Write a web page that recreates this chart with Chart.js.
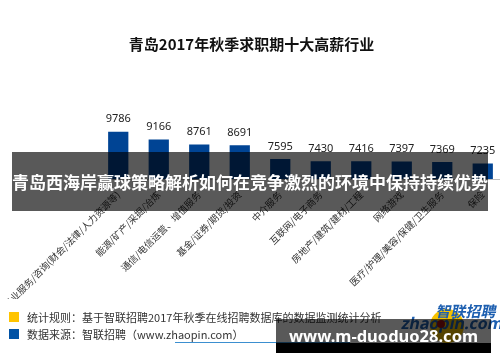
<!DOCTYPE html>
<html>
<head>
<meta charset="utf-8">
<script src="https://cdn.jsdelivr.net/npm/chart.js@4"></script>
<style>
  html, body { margin: 0; padding: 0; background: #fff; }
  #wrap { position: relative; width: 500px; height: 362px; overflow: hidden; font-family: "Noto Sans CJK SC", "Noto Sans", sans-serif; }
  #chart { position: absolute; left: 0; top: 0; }
  .note { position: absolute; left: 27px; font-size: 11px; color: #333; line-height: 14px; white-space: nowrap; }
  .sq { position: absolute; left: 9px; width: 10px; height: 10px; }
  #banner { position: absolute; left: 12px; top: 152px; width: 476px; height: 59px; background: rgba(0,0,0,0.65);
            color: #fff; font-weight: bold; font-size: 17px; line-height: 59px; text-align: center; white-space: nowrap; }
  #logo1 { position: absolute; left: 437px; top: 300px; font-size: 15px; font-weight: bold; color: #1d5fb0; transform: skewX(-12deg); white-space: nowrap; }
  #logo2 { position: absolute; left: 402px; top: 314px; font-size: 16px; font-weight: bold; font-family: "Noto Sans", sans-serif; color: #1d5fb0; transform: skewX(-12deg); white-space: nowrap; line-height: 18px; }
  #ring { position: absolute; left: 430px; top: 309px; width: 34px; height: 34px; border-radius: 50%; background: #f6c200; }
  #dot { position: absolute; left: 437px; top: 320px; width: 8px; height: 8px; border-radius: 50%; background: #a01010; }
  #uline { position: absolute; left: 175px; top: 342px; width: 175px; height: 1px; background: #3b8fd0; }
  #wm { position: absolute; left: 276px; top: 319px; width: 215px; height: 34px; }
  #wm .g { position: absolute; left: 0; top: 0; width: 215px; height: 24px; background: rgba(0,0,0,0.65); }
  #wm .b { position: absolute; left: 0; top: 24px; width: 215px; height: 10px; background: #000; }
  #wm .t { position: absolute; left: 0; top: 5px; width: 215px; text-align: center; color: #fff; font-weight: bold;
           font-size: 16.5px; line-height: 24px; font-family: "Noto Sans", sans-serif; white-space: nowrap; }
</style>
</head>
<body>
<div id="wrap">
  <canvas id="chart" width="510" height="362"></canvas>
  <div class="sq" style="top:312px;background:#ffc400"></div>
  <div class="note" style="top:310px">统计规则：基于智联招聘2017年秋季在线招聘数据库的数据监测统计分析</div>
  <div class="sq" style="top:329px;background:#0052a5"></div>
  <div class="note" style="top:327px">数据来源：智联招聘（www.zhaopin.com）</div>
  <div id="uline"></div>
  <div id="ring"></div>
  <div id="logo1">智联招聘</div>
  <div id="logo2">zhaopin.com</div>
  <div id="dot"></div>
  <div id="banner">青岛西海岸赢球策略解析如何在竞争激烈的环境中保持持续优势</div>
  <div id="wm"><div class="g"></div><div class="b"></div><div class="t">www.m-duoduo28.com</div></div>
</div>
<script>
// ========== Data
let industries = [
    '专业服务/咨询(财会/法律/人力资源等)',
    '能源/矿产/采掘/冶炼',
    '通信/电信运营、增值服务',
    '基金/证券/期货/投资',
    '中介服务',
    '互联网/电子商务',
    '房地产/建筑/建材/工程',
    '网络游戏',
    '医疗/护理/美容/保健/卫生服务',
    '保险'
];
let salaries = [9786, 9166, 8761, 8691, 7595, 7430, 7416, 7397, 7369, 7235];

let barColor = '#004494';

// value labels above the bars
let valueLabels = {
    id: 'valueLabels',
    afterDatasetsDraw(chart) {
        let ctx = chart.ctx;
        let meta = chart.getDatasetMeta(0);
        ctx.save();
        ctx.font = '11px "Noto Sans", sans-serif';
        ctx.fillStyle = '#222';
        ctx.textAlign = 'center';
        ctx.textBaseline = 'bottom';
        meta.data.forEach((bar, i) => {
            ctx.fillText(salaries[i], bar.x, bar.y - 7);
        });
        ctx.restore();
    }
};

new Chart(document.getElementById('chart'), {
    type: 'bar',
    data: {
        labels: industries,
        datasets: [{
            data: salaries,
            backgroundColor: barColor,
            barPercentage: 0.5,
            categoryPercentage: 1
        }]
    },
    options: {
        responsive: false,
        animation: false,
        layout: { padding: { left: 0, right: 7, top: 0, bottom: 63 } },
        plugins: {
            legend: { display: false },
            tooltip: { enabled: false },
            title: {
                display: true,
                text: '青岛2017年秋季求职期十大高薪行业',
                color: '#111',
                font: { size: 15, weight: 'bold', family: '"Noto Sans CJK SC", sans-serif' },
                padding: { top: 35, bottom: 76 }
            }
        },
        scales: {
            y: {
                min: 6000, max: 10000,
                grid: { display: false },
                border: { display: false },
                ticks: { display: false },
                afterFit(scale) { scale.width = 98; }
            },
            x: {
                grid: { display: false },
                border: { display: true, color: '#bfbfbf' },
                ticks: {
                    color: '#333',
                    minRotation: 45,
                    maxRotation: 45,
                    padding: 2,
                    font: { size: 9.5, family: '"Noto Sans CJK SC", sans-serif' }
                },
                afterFit(scale) {
                    scale.height = 120;
                    scale.paddingLeft = 0;
                    scale.paddingRight = 0;
                }
            }
        }
    },
    plugins: [valueLabels]
});
</script>
</body>
</html>
